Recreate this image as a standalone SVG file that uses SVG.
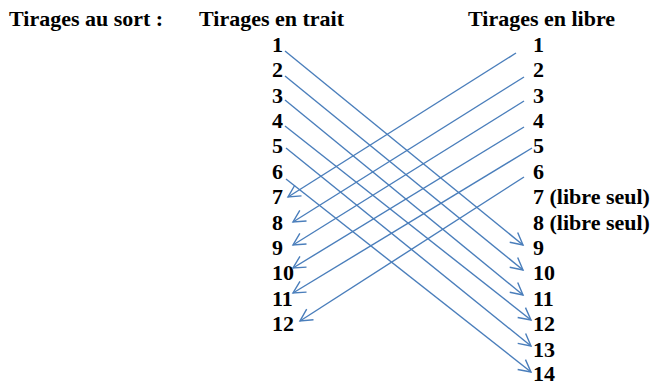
<svg xmlns="http://www.w3.org/2000/svg" width="654" height="383" viewBox="0 0 654 383">
<style>
text{font-family:"Liberation Serif","Times New Roman",serif;font-weight:bold;font-size:22px;fill:#000}
.c line{stroke:#4A7EBB;stroke-width:1.4;fill:none;marker-end:url(#arr)}
</style>
<defs>
<marker id="arr" markerUnits="userSpaceOnUse" viewBox="-14 -9 16 18" markerWidth="16" markerHeight="18" refX="0" refY="0" orient="auto">
<path d="M-12,-6.3 L0,0 L-12,6.3" fill="none" stroke="#4A7EBB" stroke-width="1.4"/>
</marker>
</defs>
<rect width="654" height="383" fill="#fff"/>
<g id="headers">
<text x="9" y="26">Tirages au sort :</text>
<text x="199" y="26">Tirages en trait</text>
<text x="468" y="26">Tirages en libre</text>
</g>
<g id="trait">
<text x="272" y="51.7">1</text>
<text x="272" y="77.1">2</text>
<text x="272" y="102.5">3</text>
<text x="272" y="127.9">4</text>
<text x="272" y="153.3">5</text>
<text x="272" y="178.7">6</text>
<text x="272" y="204.1">7</text>
<text x="272" y="229.5">8</text>
<text x="272" y="254.9">9</text>
<text x="272" y="280.3">10</text>
<text x="272" y="305.7">11</text>
<text x="272" y="331.1">12</text>
</g>
<g id="libre">
<text x="533" y="51.7">1</text>
<text x="533" y="77.1">2</text>
<text x="533" y="102.5">3</text>
<text x="533" y="127.9">4</text>
<text x="533" y="153.3">5</text>
<text x="533" y="178.7">6</text>
<text x="533" y="204.1">7 (libre seul)</text>
<text x="533" y="229.5">8 (libre seul)</text>
<text x="533" y="254.9">9</text>
<text x="533" y="280.3">10</text>
<text x="533" y="305.7">11</text>
<text x="533" y="331.1">12</text>
<text x="533" y="356.5">13</text>
<text x="533" y="381">14</text>
</g>
<g id="connectors" class="c">
<line x1="285" y1="51" x2="523" y2="245"/>
<line x1="285" y1="76" x2="523" y2="270"/>
<line x1="285" y1="100" x2="523" y2="295"/>
<line x1="285" y1="126" x2="531" y2="320"/>
<line x1="286" y1="148" x2="531" y2="346"/>
<line x1="286" y1="179" x2="531" y2="372"/>
<line x1="516" y1="53" x2="288" y2="197"/>
<line x1="524" y1="77" x2="293" y2="222"/>
<line x1="524" y1="101" x2="293" y2="245"/>
<line x1="524" y1="127" x2="293" y2="268"/>
<line x1="532" y1="148" x2="293" y2="293"/>
<line x1="524" y1="177" x2="300" y2="321"/>
</g>
</svg>
